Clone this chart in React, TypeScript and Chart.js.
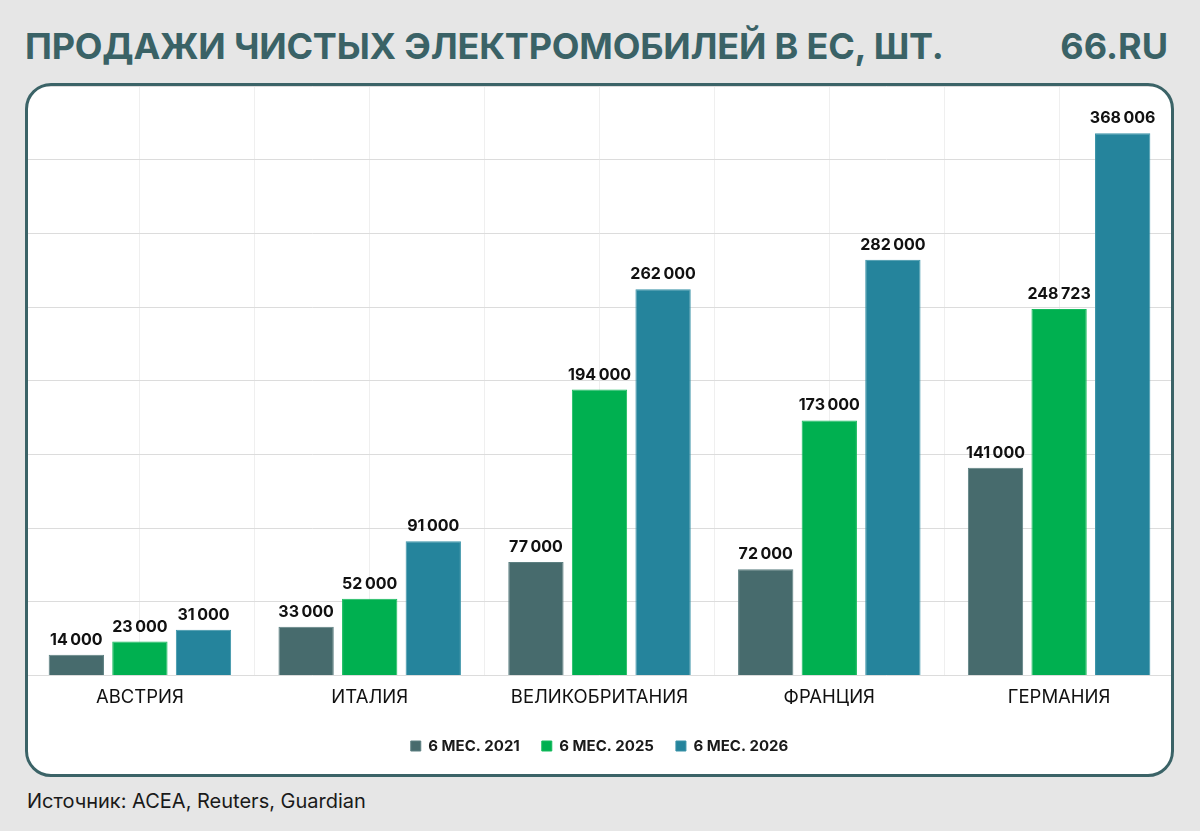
import React, { useEffect, useRef } from "react";
import { Chart, registerables } from "chart.js";

Chart.register(...registerables);

const categories = ["АВСТРИЯ", "ИТАЛИЯ", "ВЕЛИКОБРИТАНИЯ", "ФРАНЦИЯ", "ГЕРМАНИЯ"];
const seriesNames = ["6 МЕС. 2021", "6 МЕС. 2025", "6 МЕС. 2026"];
const values2021 = [14000, 33000, 77000, 72000, 141000];
const values2025 = [23000, 52000, 194000, 173000, 248723];
const values2026 = [31000, 91000, 262000, 282000, 368006];
const seriesColors = ["#476b6d", "#00b050", "#25849c"];
const seriesBorders = ["#5d8082", "#16bb5e", "#3a93a8"];

const TITLE = "ПРОДАЖИ ЧИСТЫХ ЭЛЕКТРОМОБИЛЕЙ В ЕС, ШТ.";
const BRAND = "66.RU";
const SOURCE = "Источник: ACEA, Reuters, Guardian";
const FONT = "Inter, 'Noto Sans', sans-serif";

const fmt = (v: number) => String(v).replace(/\B(?=(\d{3})+(?!\d))/g, "\u2009");

const valueLabels = {
  id: "valueLabels",
  afterDatasetsDraw(chart: any) {
    const ctx = chart.ctx;
    ctx.save();
    ctx.font = `bold 16px ${FONT}`;
    ctx.fillStyle = "#111111";
    ctx.textAlign = "center";
    ctx.textBaseline = "alphabetic";
    chart.data.datasets.forEach((ds: any, i: number) => {
      const meta = chart.getDatasetMeta(i);
      meta.data.forEach((el: any, j: number) => {
        ctx.fillText(fmt(ds.data[j]), el.x, el.y - 10);
      });
    });
    ctx.restore();
  },
};

export default function App() {
  const ref = useRef<HTMLCanvasElement | null>(null);

  useEffect(() => {
    if (!ref.current) return;
    const data = [values2021, values2025, values2026];
    const chart = new Chart(ref.current, {
      type: "bar",
      data: {
        labels: categories,
        datasets: seriesNames.map((name, i) => ({
          label: name,
          data: data[i],
          backgroundColor: seriesColors[i],
          borderColor: seriesBorders[i],
          borderWidth: 1,
          categoryPercentage: 0.83,
          barPercentage: 0.87,
        })),
      },
      options: {
        animation: false,
        responsive: false,
        maintainAspectRatio: false,
        layout: { padding: { top: 3, left: 0, right: 0, bottom: 13.5 } },
        plugins: {
          legend: {
            position: "bottom",
            labels: {
              boxWidth: 10,
              boxHeight: 10,
              padding: 22,
              color: "#1a1a1a",
              font: { family: FONT, size: 15, weight: "bold" },
            },
          },
          tooltip: { enabled: false },
        },
        scales: {
          x: {
            grid: { display: false, drawTicks: false },
            border: { display: false },
            ticks: {
              padding: 11,
              color: "#111111",
              font: { family: FONT, size: 18.5 },
            },
            title: { display: true, text: " ", font: { size: 1 }, padding: { top: -4.3, bottom: 0 } },
          },
          x2: {
            type: "linear",
            position: "bottom",
            offset: false,
            min: 0,
            max: 10,
            grid: { color: "#efefef", drawTicks: false, lineWidth: 1, offset: false },
            border: { display: false },
            ticks: { display: false, stepSize: 1 },
          },
          y: {
            min: 0,
            max: 400000,
            grid: { color: "#dcdcdc", drawTicks: false, lineWidth: 1 },
            border: { display: false },
            ticks: { display: false, stepSize: 50000 },
          },
        },
      },
      plugins: [valueLabels],
    });
    return () => chart.destroy();
  }, []);

  return (
    <div
      style={{
        position: "absolute",
        left: 0,
        top: 0,
        width: 1200,
        height: 831,
        background: "#e6e6e6",
        fontFamily: FONT,
        overflow: "hidden",
      }}
    >
      <div
        style={{
          position: "absolute",
          left: 25,
          top: 28,
          fontSize: 36,
          lineHeight: "36px",
          fontWeight: 700,
          letterSpacing: "-0.2px",
          color: "#3a6266",
          whiteSpace: "nowrap",
        }}
      >
        {TITLE}
      </div>
      <div
        style={{
          position: "absolute",
          right: 32,
          top: 28,
          fontSize: 36,
          lineHeight: "36px",
          fontWeight: 700,
          color: "#3a6266",
          whiteSpace: "nowrap",
        }}
      >
        {BRAND}
      </div>
      <div
        style={{
          position: "absolute",
          left: 25,
          top: 83,
          width: 1149,
          height: 694,
          background: "#ffffff",
          borderRadius: 26,
          overflow: "hidden",
        }}
      >
        <canvas ref={ref} width={1149} height={694} style={{ display: "block", width: 1149, height: 694 }} />
      </div>
      <div
        style={{
          position: "absolute",
          left: 25,
          top: 83,
          width: 1149,
          height: 694,
          boxSizing: "border-box",
          border: "3px solid #3b6367",
          borderRadius: 26,
          pointerEvents: "none",
        }}
      />
      <div
        style={{
          position: "absolute",
          left: 27,
          top: 789,
          fontSize: 20,
          lineHeight: "24px",
          color: "#1a1a1a",
          whiteSpace: "nowrap",
        }}
      >
        {SOURCE}
      </div>
    </div>
  );
}
